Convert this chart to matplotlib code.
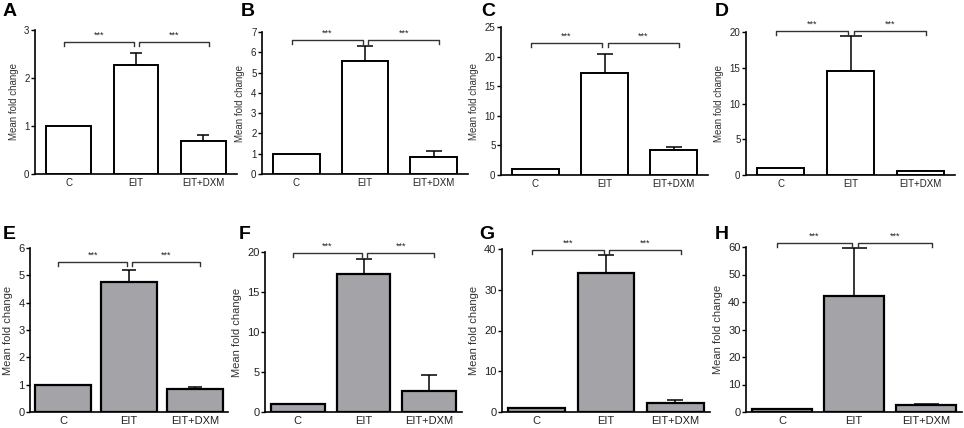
import matplotlib.pyplot as plt

plt.rcParams['font.family'] = ['Liberation Sans', 'DejaVu Sans']

W, H = 964, 428

groups = ['C', 'EIT', 'EIT+DXM']
letters = ['A', 'B', 'C', 'D', 'E', 'F', 'G', 'H']

# mean fold change and upper SEM per panel
means = [
    [1.0, 2.27, 0.68],
    [1.0, 5.55, 0.85],
    [1.0, 17.3, 4.2],
    [1.0, 14.5, 0.55],
    [1.0, 4.75, 0.83],
    [1.0, 17.3, 2.6],
    [1.0, 34.1, 2.1],
    [1.0, 42.1, 2.5],
]
errs = [
    [0, 0.25, 0.14],
    [0, 0.75, 0.27],
    [0, 3.1, 0.6],
    [0, 4.9, 0.05],
    [0, 0.43, 0.09],
    [0, 1.8, 2.0],
    [0, 4.5, 0.9],
    [0, 17.4, 0.4],
]
ymax = [3, 7, 25, 20, 6, 20, 40, 60]
ystep = [1, 1, 5, 5, 1, 5, 10, 10]
stars = '***'

# layout in pixels: left, right, top, bottom of each axes
boxes = [
    (35, 237, 30, 174), (262, 468, 32, 174), (501, 708, 27, 175), (746, 955, 32, 175),
    (30, 228, 248, 412), (265, 462, 252, 412), (502, 710, 249, 412), (746, 962, 247, 412),
]
letter_pos = [(3, 3), (241, 3), (481, 3), (715, 3), (3, 226), (239, 226), (479, 226), (715, 226)]
bar_w = [0.66, 0.68, 0.67, 0.67, 0.84, 0.82, 0.82, 0.83]
brk_y = [0.917, 0.943, 0.892, 1.005, 0.915, 0.995, 0.994, 1.025]
caps = [4.5, 6, 6, 8, 5, 6, 6, 9]

fig = plt.figure(figsize=(W / 100, H / 100), dpi=100)

for i in range(8):
    l, r, t, b = boxes[i]
    ax = fig.add_axes([l / W, 1 - b / H, (r - l) / W, (b - t) / H])
    top_row = i < 4
    fc = 'white' if top_row else '#a4a3a8'
    fs = 7 if top_row else 8
    lw = 1.4 if top_row else 1.6

    x = list(range(len(groups)))
    ax.bar(x, means[i], width=bar_w[i], color=fc, edgecolor='black', linewidth=lw, zorder=3)
    for xi, m, e in zip(x, means[i], errs[i]):
        if e > 0:
            ax.errorbar(xi, m, yerr=[[0], [e]], fmt='none', ecolor='black',
                        elinewidth=1.1, capsize=caps[i], capthick=1.1, zorder=2)

    ax.set_xlim(-0.5, 2.5)
    ax.set_ylim(0, ymax[i])
    ax.set_yticks([k * ystep[i] for k in range(int(ymax[i] / ystep[i]) + 1)])
    ax.set_xticks(x)
    ax.set_xticklabels(groups)
    ax.tick_params(axis='x', length=0, pad=3, labelsize=fs, labelcolor='#222222')
    ax.tick_params(axis='y', length=3, width=1, pad=1, labelsize=fs, labelcolor='#222222')
    for s in ['top', 'right']:
        ax.spines[s].set_visible(False)
    for s in ['left', 'bottom']:
        ax.spines[s].set_linewidth(1.2)
    ax.set_ylabel('Mean fold change', fontsize=fs, color='#333333', labelpad=4)

    # significance brackets
    yb = brk_y[i] * ymax[i]
    d = 0.025 * ymax[i]
    for x0, x1 in [(-0.07, 0.97), (1.05, 2.08)]:
        ax.plot([x0, x0, x1, x1], [yb - d, yb, yb, yb - d], color='#333333',
                linewidth=1.0, clip_on=False)
        ax.text((x0 + x1) / 2, yb + 0.015 * ymax[i], stars, ha='center', va='bottom',
                fontsize=6.5, color='#222222', clip_on=False)

    lx, ly = letter_pos[i]
    fig.text(lx / W, 1 - ly / H, letters[i], fontsize=14, fontweight='bold', ha='left', va='top')

fig.savefig('out.png', dpi=100)
